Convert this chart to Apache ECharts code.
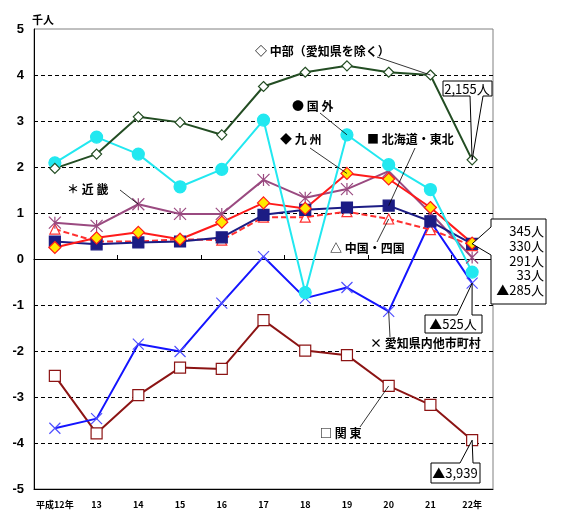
<!DOCTYPE html>
<html>
<head>
<meta charset="utf-8">
<script src="https://cdn.jsdelivr.net/npm/echarts@6/dist/echarts.min.js"></script>
<style>
html, body { margin: 0; padding: 0; background: #fff; }
#chart { width: 561px; height: 514px; }
</style>
</head>
<body>
<div id="chart"></div>
<script>
// 年次 (平成12年～22年)
var categories = ['平成12年', '13', '14', '15', '16', '17', '18', '19', '20', '21', '22年'];

// 転入超過数（千人）
var chubu    = [1.97, 2.28, 3.09, 2.97, 2.70, 3.75, 4.06, 4.20, 4.06, 4.00, 2.155];
var kokugai  = [2.09, 2.65, 2.28, 1.57, 1.95, 3.02, -0.73, 2.70, 2.05, 1.51, -0.285];
var kyushu   = [0.25, 0.46, 0.58, 0.43, 0.80, 1.22, 1.10, 1.86, 1.74, 1.12, 0.345];
var hokkaido = [0.38, 0.32, 0.36, 0.38, 0.47, 0.96, 1.07, 1.12, 1.16, 0.82, 0.33];
var kinki    = [0.79, 0.72, 1.19, 0.98, 0.98, 1.72, 1.33, 1.52, 1.91, 1.00, 0.033];
var chugoku  = [0.65, 0.38, 0.38, 0.43, 0.41, 0.91, 0.91, 1.03, 0.87, 0.64, 0.291];
var aichi    = [-3.68, -3.47, -1.85, -2.01, -0.96, 0.05, -0.85, -0.62, -1.14, 0.82, -0.525];
var kanto    = [-2.54, -3.79, -2.96, -2.36, -2.39, -1.33, -1.99, -2.09, -2.76, -3.17, -3.939];

var labelTexts = ['◇ 中部（愛知県を除く）', '● 国 外', '◆ 九 州', '■ 北海道・東北',
                  '＊ 近 畿', '△ 中国・四国', '× 愛知県内他市町村', '□ 関 東'];

var chart = echarts.init(document.getElementById('chart'));

var asterisk = 'path://M0,0L10,10M10,0L0,10M5,0L5,10';
var cross = 'path://M0,0L10,10M10,0L0,10';

function makeLine(name, data, color, symbol, size, fill, border, dashed) {
	return {
		name: name,
		type: 'line',
		data: data,
		symbol: symbol,
		symbolSize: size,
		lineStyle: { color: color, width: 2, type: dashed ? [6, 3] : 'solid' },
		itemStyle: { color: fill, borderColor: border, borderWidth: 1.2 },
		emphasis: { disabled: true }
	};
}

var option = {
	animation: false,
	grid: { left: 34, right: 68, top: 29, bottom: 25, show: true, borderColor: '#808080', borderWidth: 1 },
	xAxis: [ {
		type: 'category',
		data: categories,
		boundaryGap: true,
		position: 'bottom',
		axisLine: { onZero: false, lineStyle: { color: '#000', width: 1 } },
		axisTick: { show: false },
		axisLabel: { interval: 0, margin: 11, color: '#000', fontSize: 9, fontWeight: 'bold',
			fontFamily: '"Noto Sans CJK JP", sans-serif' },
		splitLine: { show: false }
	}, {
		type: 'category',
		data: categories,
		boundaryGap: true,
		position: 'bottom',
		axisLine: { onZero: true, onZeroAxisIndex: 0, lineStyle: { color: '#000', width: 1 } },
		axisTick: { show: true, inside: true, length: 4, lineStyle: { color: '#000' } },
		axisLabel: { show: false },
		splitLine: { show: false }
	} ],
	yAxis: [ {
		type: 'value',
		min: -5,
		max: 5,
		interval: 1,
		axisLine: { show: true, lineStyle: { color: '#000', width: 1 } },
		axisTick: { show: false },
		axisLabel: { margin: 10, color: '#000', fontSize: 13, fontWeight: 'bold',
			fontFamily: '"Liberation Sans", Arial, sans-serif' },
		splitLine: { show: true, showMinLine: false, showMaxLine: false,
			lineStyle: { color: '#000', type: [4, 3], width: 1 } }
	} ],
	series: [
		makeLine('関東', kanto, '#8c1414', 'rect', 11, '#fff', '#8c1414'),
		makeLine('愛知県内他市町村', aichi, '#1414ff', cross, 11, 'rgba(0,0,0,0)', '#5050ff'),
		makeLine('中国・四国', chugoku, '#ff3030', 'triangle', 10, '#fff', '#ff3030', true),
		makeLine('近畿', kinki, '#9a4a80', asterisk, 12, 'rgba(0,0,0,0)', '#9a4a80'),
		makeLine('北海道・東北', hokkaido, '#1c1c84', 'rect', 11, '#1c1c84', '#1c1c84'),
		makeLine('九州', kyushu, '#ff1a1a', 'diamond', 12, '#ffe800', '#ff1a1a'),
		makeLine('国外', kokugai, '#22e8f0', 'circle', 12, '#22e8f0', '#22e8f0'),
		makeLine('中部（愛知県を除く）', chubu, '#234d23', 'diamond', 10, '#fff', '#234d23')
	]
};
chart.setOption(option);

function px(i, v) {
	return chart.convertToPixel({ xAxisIndex: 0, yAxisIndex: 0 }, [i, v]);
}
function fmt(v, unit) {
	var n = Math.round(Math.abs(v) * 1000);
	var s = n.toString().replace(/\B(?=(\d{3})+(?!\d))/g, ',');
	return (v < 0 ? '▲' : '') + s + unit;
}

var labelFont = 'bold 12px "Noto Sans CJK JP", sans-serif';
var boxFont = '13px "Noto Sans CJK JP", sans-serif';
var graphics = [];

function addText(text, x, y, font, align) {
	graphics.push({
		type: 'text', z: 110,
		style: { text: text, x: x, y: y, font: font, fill: '#000',
			textAlign: align || 'left', textVerticalAlign: 'middle' }
	});
}
function addLeader(x, y, p) {
	graphics.push({
		type: 'line', z: 105,
		shape: { x1: x, y1: y, x2: p[0], y2: p[1] },
		style: { stroke: '#000', lineWidth: 0.8 }
	});
}
function addBox(points) {
	graphics.push({
		type: 'polygon', z: 108,
		shape: { points: points },
		style: { fill: '#fff', stroke: '#000', lineWidth: 1 }
	});
}

// unit
addText('千人', 32, 20, 'bold 11px "Noto Sans CJK JP", sans-serif');

// series labels with leader lines
addText(labelTexts[0], 255, 51, labelFont);
addLeader(377, 57, px(9, chubu[9]));
addText(labelTexts[1], 292, 106, labelFont);
addLeader(320, 113, px(7, kokugai[7]));
addText(labelTexts[2], 280, 139, labelFont);
addLeader(310, 148, px(7, kyushu[7]));
addText(labelTexts[3], 367, 139, labelFont);
addLeader(415, 148, px(8, hokkaido[8]));
addText(labelTexts[4], 67, 189, labelFont);
addLeader(120, 190, px(2, kinki[2]));
addText(labelTexts[5], 330, 248, labelFont);
addLeader(377, 242, px(8, chugoku[8]));
addText(labelTexts[6], 370, 343, labelFont);
addLeader(390, 337, px(8, aichi[8]));
addText(labelTexts[7], 320, 433, labelFont);
addLeader(360, 427, px(8, kanto[8]));

// callouts for the last year
var last = categories.length - 1;
var t1 = px(last, chubu[last]);
addBox([[443, 81], [492, 81], [492, 96], [483, 96], t1, [470, 96], [443, 96]]);
addText(fmt(chubu[last], '人'), 467, 89, boxFont, 'center');

var t2 = px(last, hokkaido[last]);
addBox([[491, 219], [546, 219], [546, 304], [491, 304], [491, 255], t2, [491, 227]]);
var group2 = [kyushu[last], hokkaido[last], chugoku[last], kinki[last], kokugai[last]];
for (var i = 0; i < group2.length; i++) {
	addText(fmt(group2[i], '人'), 544, 231 + i * 14.8, boxFont, 'right');
}

var t3 = px(last, aichi[last]);
addBox([[425, 315], [457, 315], t3, [472, 315], [482, 315], [482, 333], [425, 333]]);
addText(fmt(aichi[last], '人'), 453, 324, boxFont, 'center');

var t4 = px(last, kanto[last]);
addBox([[431, 463], [460, 463], t4, [473, 463], [480, 463], [480, 483], [431, 483]]);
addText(fmt(kanto[last], ''), 455, 473, boxFont, 'center');

chart.setOption({ graphic: graphics });
</script>
</body>
</html>
